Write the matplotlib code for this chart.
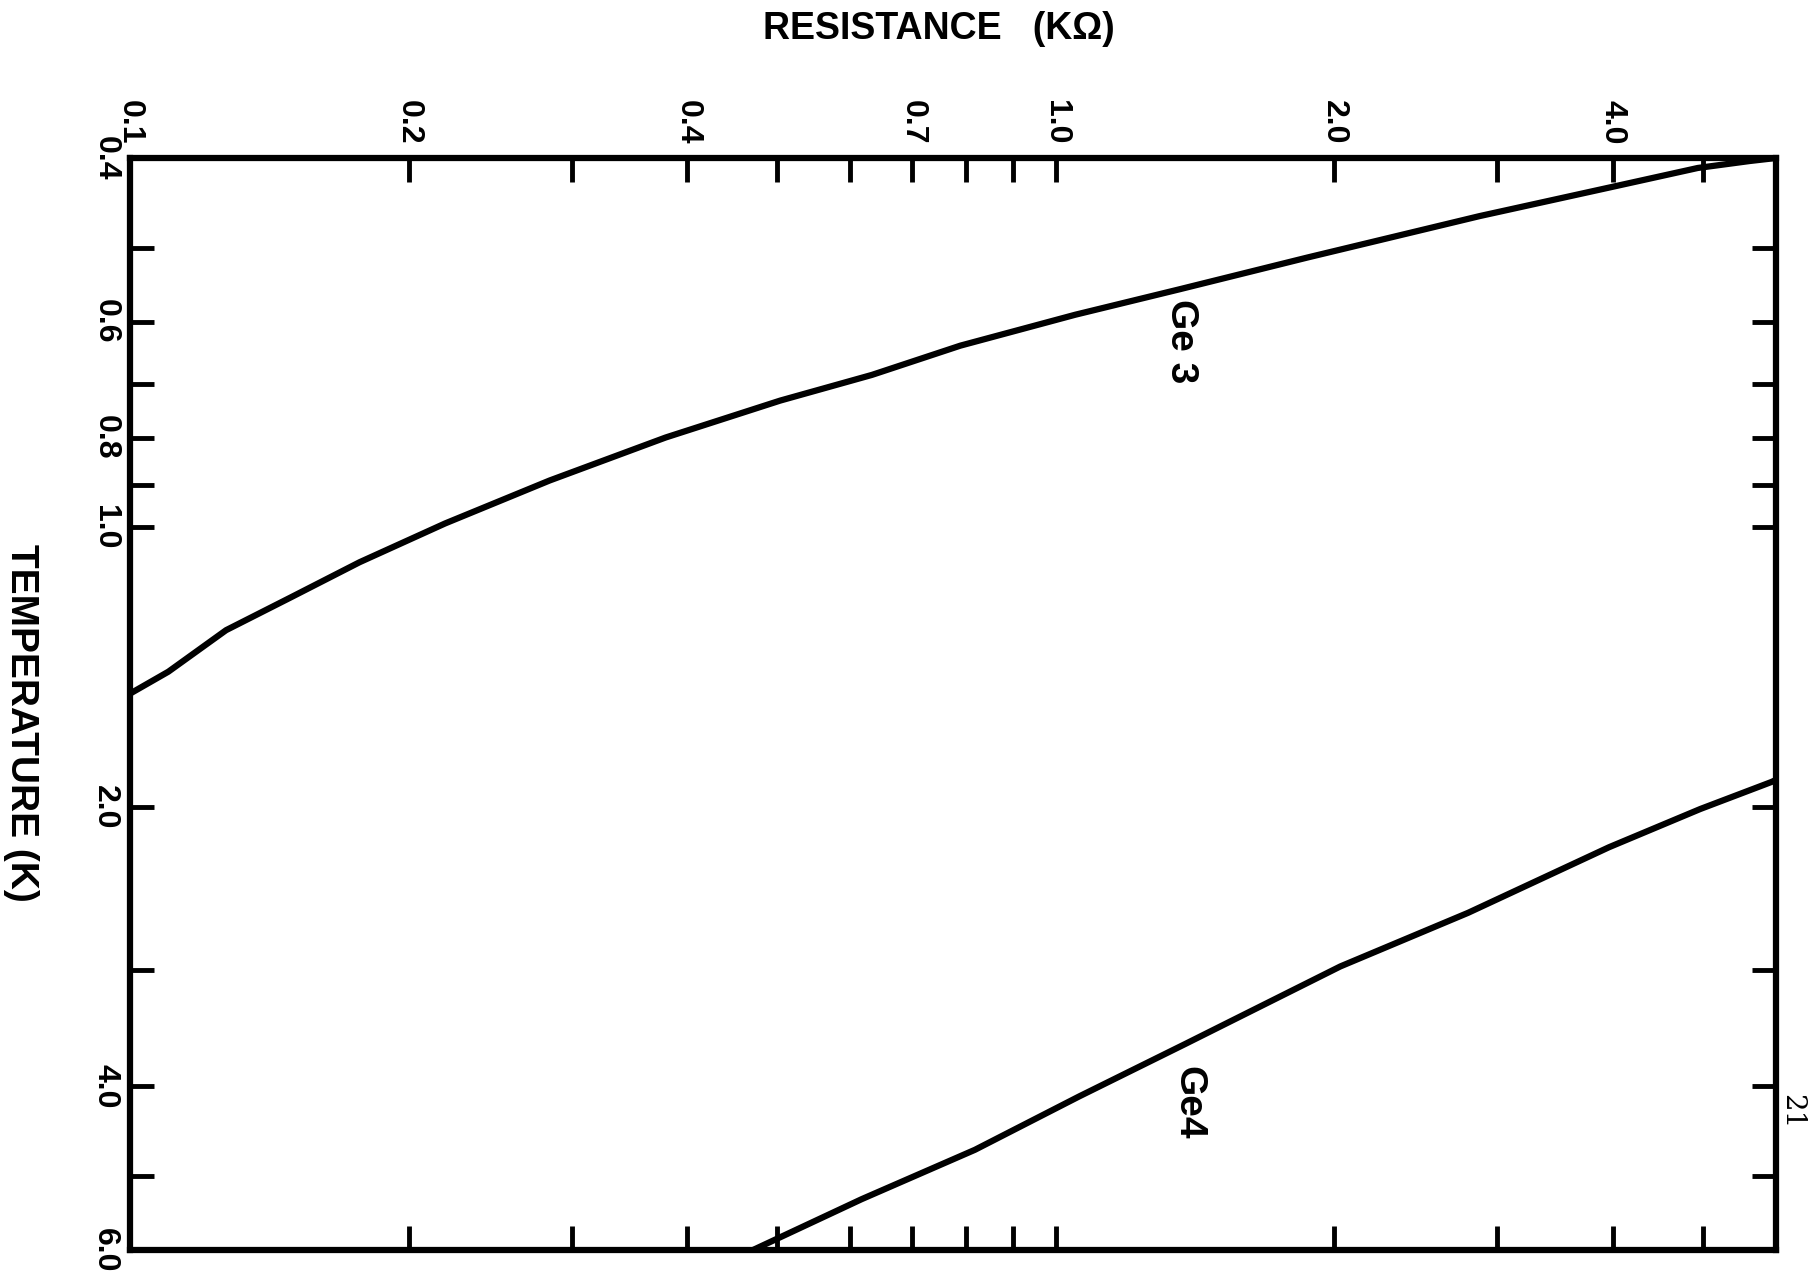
import matplotlib
matplotlib.use("Agg")
import matplotlib.pyplot as plt
from matplotlib.ticker import NullLocator

plt.rcParams['font.family'] = ['Liberation Sans', 'DejaVu Sans']
plt.rcParams['font.weight'] = 'bold'

# curves: resistance (kOhm) vs temperature (K)
ge3_r = [0.100, 0.110, 0.127, 0.149, 0.177, 0.219, 0.284, 0.379, 0.504, 0.633,
         0.789, 1.05, 1.36, 1.87, 2.87, 3.98, 4.94, 5.62, 6.0]
ge3_t = [1.51, 1.43, 1.29, 1.19, 1.09, 0.99, 0.89, 0.80, 0.73, 0.685,
         0.637, 0.59, 0.554, 0.512, 0.462, 0.43, 0.41, 0.403, 0.40]

ge4_r = [0.471, 0.617, 0.818, 1.06, 1.38, 2.03, 2.79, 3.96, 4.97, 5.93, 6.0]
ge4_t = [6.0, 5.29, 4.68, 4.10, 3.60, 2.97, 2.60, 2.21, 2.01, 1.88, 1.87]

r_ticks = [0.1, 0.2, 0.3, 0.4, 0.5, 0.6, 0.7, 0.8, 0.9, 1.0, 2.0, 3.0, 4.0, 5.0]
r_labels = ['0.1', '0.2', '', '0.4', '', '', '0.7', '', '', '1.0', '2.0', '', '4.0', '']
t_ticks = [0.4, 0.5, 0.6, 0.7, 0.8, 0.9, 1.0, 2.0, 3.0, 4.0, 5.0, 6.0]
t_labels = ['0.4', '', '0.6', '', '0.8', '', '1.0', '2.0', '', '4.0', '', '6.0']

W, H = 1817, 1282
fig = plt.figure(figsize=(W / 100, H / 100), dpi=100)
ax = fig.add_axes([130 / W, 1 - 1250 / H, 1646 / W, 1092 / H])

ax.plot(ge3_r, ge3_t, color='black', lw=4.5, solid_capstyle='butt')
ax.plot(ge4_r, ge4_t, color='black', lw=4.5, solid_capstyle='butt')

ax.set_xscale('log')
ax.set_yscale('log')
ax.set_xlim(0.1, 6.0)
ax.set_ylim(6.0, 0.4)
ax.xaxis.set_minor_locator(NullLocator())
ax.yaxis.set_minor_locator(NullLocator())
ax.set_xticks(r_ticks)
ax.set_xticklabels(r_labels, rotation=-90, fontsize=23, fontweight='bold')
ax.set_yticks(t_ticks)
ax.set_yticklabels(t_labels, rotation=-90, fontsize=23, fontweight='bold', va='center')

ax.tick_params(axis='both', which='major', direction='in', length=17, width=3.5,
               top=True, right=True, bottom=True, left=True,
               labeltop=True, labelbottom=False, labelleft=True, labelright=False)
ax.tick_params(axis='x', pad=10)
ax.tick_params(axis='y', pad=7)

for sp in ax.spines.values():
    sp.set_linewidth(4.5)

ax.text(1.365, 0.63, 'Ge 3', rotation=-90, fontsize=28, fontweight='bold',
        ha='center', va='center')
ax.text(1.39, 4.16, 'Ge4', rotation=-90, fontsize=28, fontweight='bold',
        ha='center', va='center')

fig.text(939 / W, 1 - 29 / H, 'RESISTANCE   (KΩ)', fontsize=27, fontweight='bold',
         ha='center', va='center')
fig.text(21 / W, 1 - 723 / H, 'TEMPERATURE (K)', rotation=-90, fontsize=28,
         fontweight='bold', ha='center', va='center')
fig.text(1792 / W, 1 - 1112 / H, '21', rotation=-90, fontsize=20,
         fontweight='normal', family='DejaVu Serif', ha='center', va='center')

fig.savefig('out.png', dpi=100, facecolor='white')
